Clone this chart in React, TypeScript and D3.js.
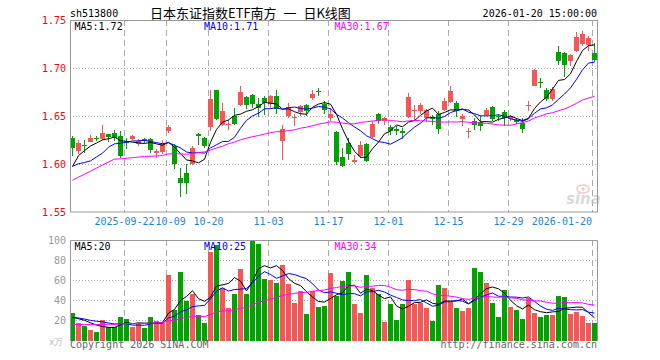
import React from "react";
import * as d3 from "d3";

// ---- data ----
const tickIndex = [9, 16, 23, 33, 43, 53, 63, 73, 87];
const tickLabels = ["2025-09-22", "10-09", "10-20", "11-03", "11-17", "12-01", "12-15", "12-29", "2026-01-20"];
const priceTicks = [1.75, 1.7, 1.65, 1.6, 1.55];
const volTicks = [100, 80, 60, 40, 20];

const opens = [
  1.6274, 1.6135, 1.6198, 1.6233, 1.6274, 1.6257, 1.6309, 1.6326, 1.6292, 1.6229,
  1.6257, 1.6212, 1.6257, 1.6257, 1.6111, 1.6128, 1.6344, 1.6187, 1.5858, 1.591,
  1.5996, 1.6309, 1.627, 1.6382, 1.6767, 1.6402, 1.6406, 1.6503, 1.6611, 1.6698,
  1.6722, 1.6625, 1.6687, 1.6625, 1.6711, 1.6243, 1.6496, 1.6482, 1.6541, 1.6611,
  1.6687, 1.676, 1.6628, 1.6479, 1.633, 1.6069, 1.6218, 1.6024, 1.608, 1.6208,
  1.6277, 1.652, 1.6451, 1.6382, 1.6364, 1.634, 1.6486, 1.6552, 1.6555, 1.6479,
  1.6486, 1.652, 1.6566, 1.6645, 1.6635, 1.6468, 1.6336, 1.6451, 1.6437, 1.6513,
  1.6593, 1.65, 1.6541, 1.6468, 1.6461, 1.6427, 1.66, 1.6816, 1.6853, 1.6774,
  1.668, 1.7166, 1.7156, 1.7069, 1.718, 1.7253, 1.7236, 1.7156,
];
const highs = [
  1.6292, 1.625, 1.6246, 1.6302, 1.6288, 1.6403, 1.6316, 1.6351, 1.6344, 1.6274,
  1.6298, 1.6257, 1.6274, 1.6274, 1.6153, 1.625, 1.6406, 1.6205, 1.5962, 1.6003,
  1.6187, 1.6323, 1.628, 1.6774, 1.6774, 1.6635, 1.6461, 1.6583, 1.6809, 1.6704,
  1.6729, 1.6687, 1.6704, 1.6722, 1.6774, 1.6402, 1.6635, 1.652, 1.6618, 1.6625,
  1.6774, 1.6791, 1.6652, 1.6583, 1.634, 1.6166, 1.627, 1.609, 1.6236, 1.6218,
  1.6451, 1.6531, 1.6486, 1.6402, 1.6392, 1.6375, 1.6739, 1.6618, 1.6635, 1.6576,
  1.6514, 1.6548, 1.6687, 1.6809, 1.6652, 1.6524, 1.6375, 1.6479, 1.6496, 1.6583,
  1.6607, 1.652, 1.6565, 1.6513, 1.6479, 1.6479, 1.6659, 1.6993, 1.6895, 1.6791,
  1.6798, 1.7232, 1.7163, 1.7149, 1.7371, 1.7388, 1.7329, 1.726,
];
const lows = [
  1.6083, 1.6108, 1.6111, 1.6229, 1.6239, 1.6246, 1.6233, 1.6239, 1.6066, 1.616,
  1.6246, 1.619, 1.6222, 1.6118, 1.6059, 1.6101, 1.6319, 1.5944, 1.5656, 1.5691,
  1.5986, 1.6198, 1.6165, 1.6347, 1.6455, 1.6392, 1.6357, 1.6409, 1.66, 1.6576,
  1.6583, 1.6486, 1.6507, 1.6583, 1.6521, 1.6045, 1.6479, 1.6392, 1.6496, 1.6496,
  1.667, 1.6704, 1.652, 1.6451, 1.5993, 1.5965, 1.6045, 1.6003, 1.6062, 1.602,
  1.627, 1.6416, 1.6409, 1.6298, 1.6298, 1.6263, 1.6479, 1.6451, 1.652, 1.6437,
  1.6409, 1.6312, 1.6555, 1.6635, 1.6486, 1.6399, 1.627, 1.6357, 1.6347, 1.6496,
  1.6451, 1.6444, 1.6399, 1.6444, 1.642, 1.6322, 1.6548, 1.6809, 1.6791, 1.6652,
  1.6652, 1.7034, 1.6906, 1.7017, 1.7166, 1.7225, 1.718, 1.7058,
];
const closes = [
  1.6163, 1.6222, 1.6184, 1.6267, 1.6257, 1.6326, 1.6285, 1.6267, 1.6083, 1.6215,
  1.6292, 1.6239, 1.6239, 1.6142, 1.6135, 1.6222, 1.6389, 1.5996, 1.5798, 1.5805,
  1.617, 1.6292, 1.6183, 1.668, 1.6472, 1.6548, 1.6413, 1.642, 1.6746, 1.6618,
  1.6628, 1.6583, 1.6635, 1.6704, 1.6576, 1.6364, 1.659, 1.6489, 1.66, 1.6548,
  1.6729, 1.6753, 1.6566, 1.652, 1.602, 1.5975, 1.6104, 1.6045, 1.6201, 1.6027,
  1.6416, 1.6451, 1.6479, 1.6347, 1.634, 1.6323, 1.6694, 1.6559, 1.6618, 1.6566,
  1.6472, 1.6368, 1.666, 1.6757, 1.6548, 1.6503, 1.6343, 1.6409, 1.6392, 1.6565,
  1.6472, 1.649, 1.6479, 1.6496, 1.6434, 1.6364, 1.661, 1.6982, 1.6843, 1.668,
  1.6781, 1.7069, 1.7027, 1.7138, 1.7322, 1.7357, 1.7312, 1.7079,
];
const volumes = [
  26.7, 16.7, 13.7, 9.7, 7.7, 19.7, 12.7, 12.7, 22.7, 20.7,
  12.7, 16.7, 11.7, 22.7, 18.7, 17, 64.7, 29.7, 67.7, 38.7,
  45.7, 24.7, 16.7, 87.7, 95, 51.7, 31.7, 45.7, 70.7, 45.7,
  98.7, 95.7, 60.7, 59.7, 56.7, 74.7, 55.7, 36.7, 48.7, 25.7,
  48.7, 32.7, 33.7, 66.7, 44.3, 59, 68, 35.7, 26.7, 65,
  51.7, 45.7, 17.7, 35.7, 19.7, 35.7, 60, 35.7, 37.5, 31.7,
  18.7, 54.7, 51.7, 38.2, 31.7, 28.7, 31.7, 71.7, 68, 56.7,
  36.7, 22.7, 49.7, 32.7, 29.7, 20.7, 41.7, 26.7, 22.7, 24.7,
  24.7, 43.7, 42.7, 25.7, 27.7, 23.7, 16.7, 16.7,
];
// sessions before the first visible one (only feed the moving averages)
const priorCloses = [
  1.525, 1.528, 1.53, 1.532, 1.534, 1.535, 1.537,
  1.598, 1.604, 1.61, 1.607, 1.603, 1.608, 1.606, 1.607,
  1.588, 1.592, 1.59, 1.589, 1.593,
  1.595, 1.605, 1.61, 1.585, 1.593,
  1.566, 1.592, 1.603, 1.61,
];
const priorVolumes = [
  12, 10, 14, 11, 9, 13, 12, 10, 11, 15, 12, 10, 13, 11, 12, 10, 11, 13, 12, 11,
  23, 25, 23, 16, 26.5,
  24, 21.5, 22, 19.3,
];
const priceMaLabels = ["MA5:1.72", "MA10:1.71", "MA30:1.67"];
const volMaLabels = ["MA5:20", "MA10:25", "MA30:34"];
const maPeriods = [5, 10, 30];

const RED = "#f65656";
const GREEN = "#00a300";
const MA_COLORS = ["#000000", "#0000ff", "#ff00ff"];
const MONO = "'DejaVu Sans Mono', 'Liberation Mono', monospace";
const CHAR_W = 6.02;

function movingAvg(values: number[], prior: number[], p: number): number[] {
  const all = prior.concat(values);
  const off = prior.length;
  return values.map((_, i) => d3.mean(all.slice(i + off - p + 1, i + off + 1)) as number);
}

export default function App() {
  const W = 660;
  const H = 360;
  const n = closes.length;
  const L = 70;
  const R = 598;
  const x = d3.scaleLinear().domain([0, 88]).range([L, R]);
  const yP = d3.scaleLinear().domain([1.55, 1.75]).range([212, 20]);
  const yV = d3.scaleLinear().domain([0, 100]).range([340, 240]);

  const priceMA = maPeriods.map((p) => movingAvg(closes, priorCloses, p));
  const volMA = maPeriods.map((p) => movingAvg(volumes, priorVolumes, p));

  const lineP = d3
    .line<number>()
    .x((_, i) => x(i) + 2.5)
    .y((d) => yP(d));
  const lineV = d3
    .line<number>()
    .x((_, i) => x(i) + 2.5)
    .y((d) => yV(d));

  const idx = d3.range(n);
  const isUp = (i: number) => closes[i] >= opens[i];

  // date labels: centred on their line, pushed right if they would touch the previous one
  const dateLabelPos: { x: number; anchor: string }[] = [];
  let prevEnd = -Infinity;
  tickIndex.forEach((ti, k) => {
    const w = tickLabels[k].length * CHAR_W;
    const last = k === tickIndex.length - 1;
    if (last) {
      dateLabelPos.push({ x: x(ti), anchor: "end" });
      return;
    }
    let start = x(ti) + 0.5 - w / 2;
    if (start < prevEnd + 1) start = prevEnd + 1;
    prevEnd = start + w;
    dateLabelPos.push({ x: start, anchor: "start" });
  });

  return (
    <svg
      width={W}
      height={H}
      style={{ position: "absolute", left: 0, top: 0, background: "#fff" }}
    >
      <rect x={0} y={0} width={W} height={H} fill="#fff" />
      {/* header */}
      <text x={70} y={16.5} fontFamily={MONO} fontSize={10} fill="#000">sh513800</text>
      <text x={150} y={17.5} fontFamily="'Noto Sans CJK SC', sans-serif" fontSize={13} wordSpacing={4} fill="#000">
        日本东证指数ETF南方 一 日K线图
      </text>
      <text x={597} y={16.5} textAnchor="end" fontFamily={MONO} fontSize={10} fill="#000">
        2026-01-20 15:00:00
      </text>

      {/* price grid */}
      {priceTicks.slice(1, -1).map((t) => (
        <line key={"pg" + t} x1={L} x2={R} y1={yP(t) + 0.5} y2={yP(t) + 0.5}
          stroke="#aaa" strokeDasharray="1,2" />
      ))}
      {tickIndex.map((ti) => (
        <line key={"pv" + ti} x1={x(ti) + 0.5} x2={x(ti) + 0.5} y1={20} y2={212}
          stroke="#aaa" strokeDasharray="6,4" />
      ))}
      {/* volume grid */}
      {volTicks.slice(1).map((t) => (
        <line key={"vg" + t} x1={L} x2={R} y1={yV(t) + 0.5} y2={yV(t) + 0.5}
          stroke="#aaa" strokeDasharray="1,2" />
      ))}
      {tickIndex.map((ti) => (
        <line key={"vv" + ti} x1={x(ti) + 0.5} x2={x(ti) + 0.5} y1={240} y2={341}
          stroke="#aaa" strokeDasharray="6,4" />
      ))}

      {/* sina watermark */}
      <g opacity={0.55}>
        <ellipse cx={583} cy={189} rx={6} ry={4} fill="none" stroke="#e9a0a0" strokeWidth={1.5} />
        <circle cx={583} cy={189} r={1.8} fill="#e9a0a0" />
        <text x={566} y={204} fontFamily="'DejaVu Sans', sans-serif" fontStyle="italic" fontWeight="bold"
          fontSize={15} fill="#bbb">sina</text>
      </g>

      {/* candles */}
      {idx.map((i) => {
        const c = isUp(i) ? RED : GREEN;
        const top = Math.round(yP(Math.max(opens[i], closes[i])));
        const bot = Math.round(yP(Math.min(opens[i], closes[i])));
        const cx = x(i) + 2.5;
        return (
          <g key={"c" + i}>
            <line x1={cx} x2={cx} y1={Math.round(yP(highs[i]))} y2={Math.round(yP(lows[i]))} stroke={c} />
            <rect x={x(i)} y={top} width={5} height={Math.max(1, bot - top)} fill={c} />
          </g>
        );
      })}

      {/* price MAs */}
      {priceMA.map((m, k) => (
        <path key={"pma" + k} d={lineP(m) || ""} fill="none" stroke={MA_COLORS[k]} strokeWidth={1} />
      ))}

      {/* volume bars */}
      {idx.map((i) => {
        const top = Math.round(yV(volumes[i]));
        return (
          <rect key={"v" + i} x={x(i)} y={top} width={5} height={341 - top}
            fill={isUp(i) ? RED : GREEN} />
        );
      })}
      {volMA.map((m, k) => (
        <path key={"vma" + k} d={lineV(m) || ""} fill="none" stroke={MA_COLORS[k]} strokeWidth={1} />
      ))}

      {/* frames */}
      <rect x={70.5} y={20.5} width={527} height={191.5} fill="none" stroke="#999" />
      <path d="M70.5,341V240.5H597.5V341" fill="none" stroke="#999" />

      {/* price axis labels */}
      {priceTicks.map((t) => (
        <text key={"pl" + t} x={66} y={yP(t) + 4} textAnchor="end" fontFamily={MONO} fontSize={10} fill="#ff0000">
          {t.toFixed(2)}
        </text>
      ))}
      {/* volume axis labels */}
      {volTicks.map((t) => (
        <text key={"vl" + t} x={66} y={yV(t) + 4} textAnchor="end" fontFamily={MONO} fontSize={10} fill="#999">
          {t}
        </text>
      ))}
      <text x={49} y={345} fontFamily={MONO} fontSize={9} fill="#bbb">x万</text>

      {/* date labels */}
      {tickIndex.map((ti, k) => (
        <text key={"d" + ti} x={dateLabelPos[k].x} y={225}
          textAnchor={dateLabelPos[k].anchor} fontFamily={MONO} fontSize={10} fill="#1f84d6">
          {tickLabels[k]}
        </text>
      ))}

      {/* MA legends */}
      {priceMaLabels.map((s, k) => (
        <text key={"pml" + k} x={[74.5, 204, 334.5][k]} y={29.5} fontFamily={MONO} fontSize={10} fill={MA_COLORS[k]}>
          {s}
        </text>
      ))}
      {volMaLabels.map((s, k) => (
        <text key={"vml" + k} x={[74.5, 204, 334.5][k]} y={249.5} fontFamily={MONO} fontSize={10} fill={MA_COLORS[k]}>
          {s}
        </text>
      ))}

      {/* footer */}
      <text x={70} y={348} fontFamily={MONO} fontSize={10} fill="#666">Copyright 2026 SINA.COM</text>
      <text x={597} y={348} textAnchor="end" fontFamily={MONO} fontSize={10} fill="#666">
        http://finance.sina.com.cn
      </text>
    </svg>
  );
}
